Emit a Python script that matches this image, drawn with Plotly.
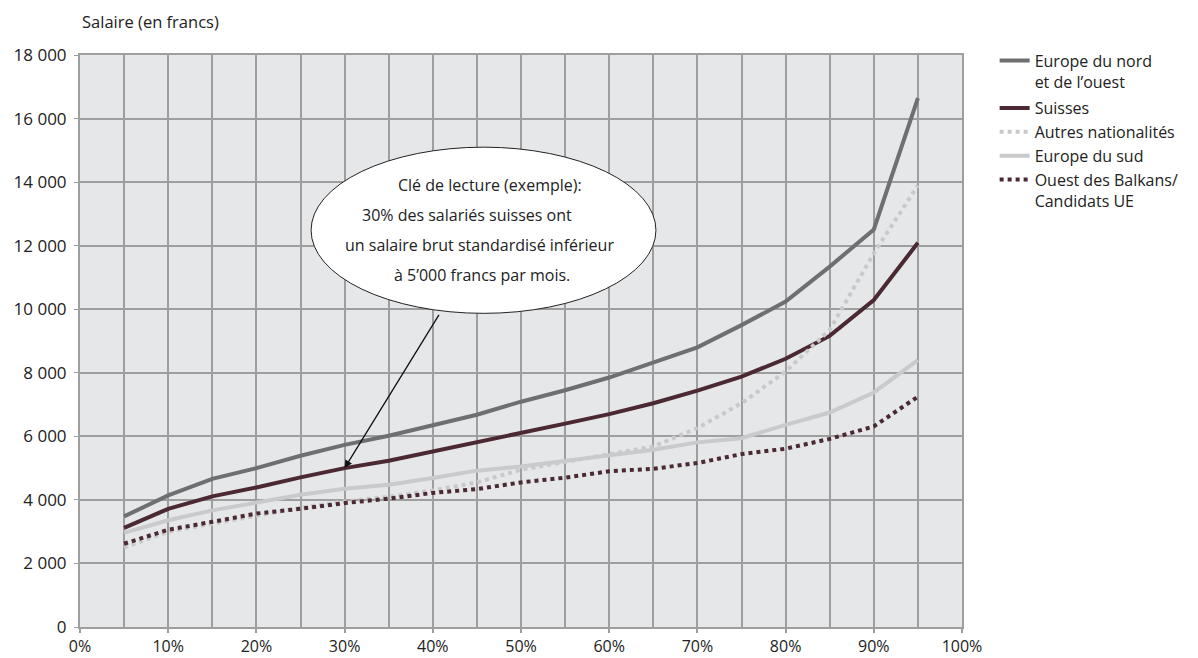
import plotly.graph_objects as go

percentiles = [5, 10, 15, 20, 25, 30, 35, 40, 45, 50, 55, 60, 65, 70, 75, 80, 85, 90, 95]

europe_nord = [3480, 4140, 4660, 5000, 5390, 5730, 6020, 6360, 6680, 7090, 7450, 7850, 8320, 8800, 9500, 10240, 11340, 12510, 16640]
suisses = [3120, 3720, 4110, 4390, 4710, 5000, 5230, 5520, 5790, 6100, 6400, 6700, 7040, 7440, 7880, 8440, 9160, 10290, 12090]
autres = [2500, 3000, 3250, 3500, 3750, 3950, 4100, 4300, 4550, 4950, 5200, 5440, 5680, 6260, 7040, 8040, 9350, 11760, 13900]
europe_sud = [2960, 3360, 3670, 3920, 4160, 4350, 4480, 4690, 4920, 5050, 5220, 5420, 5580, 5810, 5940, 6360, 6750, 7380, 8400]
balkans = [2620, 3060, 3310, 3570, 3720, 3900, 4040, 4220, 4340, 4550, 4700, 4900, 4980, 5160, 5440, 5610, 5920, 6310, 7250]

series_names = ["Europe du nord<br>et de l’ouest", "Suisses", "Autres nationalités",
                "Europe du sud", "Ouest des Balkans/<br>Candidats UE"]

x_ticks = [0, 10, 20, 30, 40, 50, 60, 70, 80, 90, 100]
x_tick_labels = [f"{v}%" for v in x_ticks]
y_ticks = [0, 2000, 4000, 6000, 8000, 10000, 12000, 14000, 16000, 18000]
y_tick_labels = ["0" if v == 0 else f"{v // 1000} 000" for v in y_ticks]

FONT = "Open Sans, Noto Sans, sans-serif"
fig = go.Figure()

styles = [
    (europe_nord, "a", dict(color="#6e6f71", width=4, dash="solid")),
    (suisses, "b", dict(color="#4b2932", width=4, dash="solid")),
    (autres, "b", dict(color="#c9c9cb", width=4, dash="dot")),
    (europe_sud, "b", dict(color="#c9cacc", width=4, dash="solid")),
    (balkans, "b", dict(color="#4b2932", width=4, dash="dot")),
]
for name, (vals, grp, ln) in zip(series_names, styles):
    fig.add_trace(go.Scatter(x=percentiles, y=vals, mode="lines", name=name,
                             legendgroup=grp, line=ln))

# ellipse callout
fig.add_shape(type="circle", xref="x", yref="y", x0=26.2, x1=65.3, y0=9870, y1=15100,
              fillcolor="white", line=dict(color="#222", width=1), layer="above")

callout_lines = [
    ("Clé de lecture (exemple):", 46.5, 13900),
    ("30% des salariés suisses ont", 43.9, 12960),
    ("un salaire brut standardisé inférieur", 45.3, 12020),
    ("à 5’000 francs par mois.", 45.6, 11070),
]
for txt, xx, yy in callout_lines:
    fig.add_annotation(x=xx, y=yy, xref="x", yref="y", text=txt, showarrow=False,
                       font=dict(family=FONT, size=16, color="#222"))

fig.add_annotation(x=30, y=5000, ax=40.8, ay=9870, xref="x", yref="y", axref="x", ayref="y",
                   text="", showarrow=True, arrowhead=2, arrowsize=1.2, arrowwidth=1.3,
                   arrowcolor="#111")

fig.add_annotation(x=0, y=1.0593, xref="paper", yref="paper", xanchor="left", yanchor="middle",
                   text="Salaire (en francs)", showarrow=False,
                   font=dict(family=FONT, size=16.5, color="#222"))

# page body has an 8px default margin; size the figure so the plot lands where the reference has it
fig.update_layout(
    width=1190, height=650,
    margin=dict(l=72, r=236, t=47, b=30.5),
    paper_bgcolor="white", plot_bgcolor="#e6e7e9",
    font=dict(family=FONT, size=16, color="#222"),
    legend=dict(x=1.037, y=1.02, xanchor="left", yanchor="top", valign="top",
                font=dict(family=FONT, size=16, color="#222"), tracegroupgap=3,
                bgcolor="rgba(0,0,0,0)"),
    showlegend=True,
)
fig.update_xaxes(range=[0, 100], tickvals=x_ticks, ticktext=x_tick_labels,
                 showgrid=True, gridcolor="#9e9e9e", gridwidth=2,
                 minor=dict(dtick=5, tick0=0, showgrid=True, gridcolor="#9e9e9e", gridwidth=2),
                 showline=True, linecolor="#9e9e9e", linewidth=2, mirror=True,
                 zeroline=False, ticks="outside", ticklen=4, tickcolor="#9e9e9e", tickwidth=1.5,
                 tickfont=dict(size=16), ticklabelstandoff=0, automargin=False)
fig.update_yaxes(range=[0, 18000], tickvals=y_ticks, ticktext=y_tick_labels,
                 showgrid=True, gridcolor="#9e9e9e", gridwidth=2,
                 showline=True, linecolor="#9e9e9e", linewidth=2, mirror=True,
                 zeroline=False, ticks="outside", ticklen=4, tickcolor="#9e9e9e",
                 tickfont=dict(size=17), ticklabelstandoff=4, automargin=False)

fig.write_html("out.html")
